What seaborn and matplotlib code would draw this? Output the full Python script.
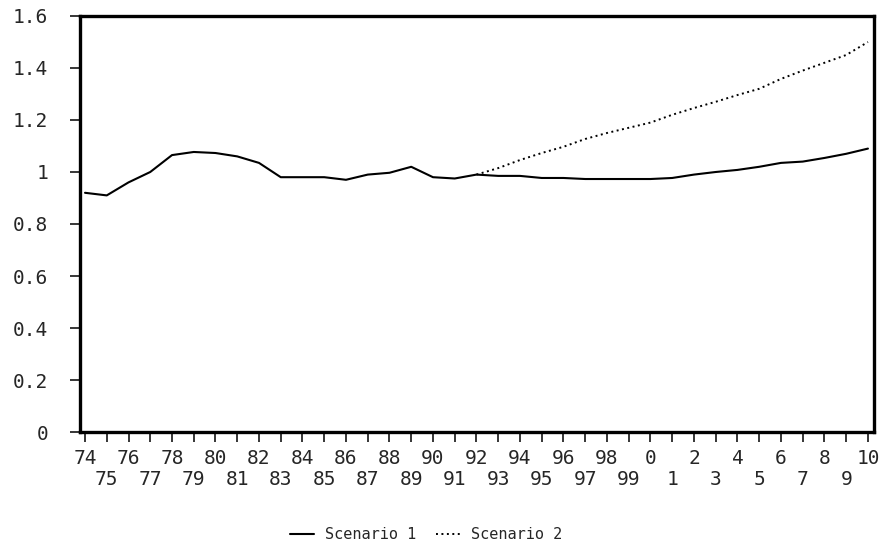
import matplotlib.pyplot as plt
import pandas as pd
import numpy as np
import seaborn as sns

# Data
years = list(range(1974, 2011))
scenario1 = [0.92, 0.91, 0.96, 1.00, 1.065, 1.077, 1.073, 1.06, 1.035, 0.98,
             0.98, 0.98, 0.97, 0.99, 0.997, 1.02, 0.98, 0.975, 0.99, 0.985,
             0.985, 0.977, 0.977, 0.973, 0.973, 0.973, 0.973, 0.977, 0.99, 1.0,
             1.008, 1.02, 1.035, 1.04, 1.054, 1.07, 1.09]
years2 = list(range(1992, 2011))
scenario2 = [0.99, 1.015, 1.046, 1.073, 1.097, 1.127, 1.15, 1.17, 1.19, 1.22,
             1.246, 1.27, 1.296, 1.32, 1.358, 1.39, 1.42, 1.45, 1.5]
y_ticks = [0, 0.2, 0.4, 0.6, 0.8, 1, 1.2, 1.4, 1.6]
y_labels = ['0', '0.2', '0.4', '0.6', '0.8', '1', '1.2', '1.4', '1.6']

df1 = pd.DataFrame({'year': years, 'value': scenario1})
df2 = pd.DataFrame({'year': years2, 'value': scenario2})

sns.set_style('white')
plt.rcParams['font.family'] = ['DejaVu Sans Mono', 'DejaVu Sans']

fig = plt.figure(figsize=(8.86, 5.57), dpi=100)
ax = fig.add_axes([0.0903, 0.2244, 0.8962, 0.7469])

sns.lineplot(data=df1, x='year', y='value', ax=ax, color='black', linewidth=1.5,
             label='Scenario 1')
sns.lineplot(data=df2, x='year', y='value', ax=ax, color='black', linewidth=1.4,
             linestyle=(0, (1, 1.8)), label='Scenario 2')

ax.set_xlim(1973.77, 2010.28)
ax.set_ylim(0, 1.6)
ax.set_xlabel('')
ax.set_ylabel('')

# two-row year labels: even on top, odd below
ax.set_xticks(years)
ax.set_xticklabels([str(y % 100) if y % 2 == 0 else '\n' + str(y % 100) for y in years],
                   fontsize=14, linespacing=1.15)
ax.set_yticks(y_ticks)
ax.set_yticklabels(y_labels, fontsize=14)

ax.tick_params(axis='x', direction='out', length=7, width=1.3, pad=5, bottom=True)
ax.tick_params(axis='y', direction='out', length=7, width=1.3, pad=16, left=True)

for side in ['top', 'bottom', 'left', 'right']:
    ax.spines[side].set_visible(True)
    ax.spines[side].set_color('black')
    ax.spines[side].set_linewidth(2.4)

ax.legend(loc='center', bbox_to_anchor=(0.481, 0.04), bbox_transform=fig.transFigure,
          ncol=2, frameon=False, fontsize=11, handlelength=1.6, handletextpad=0.7,
          columnspacing=1.3)

fig.savefig('out.png', dpi=100)
